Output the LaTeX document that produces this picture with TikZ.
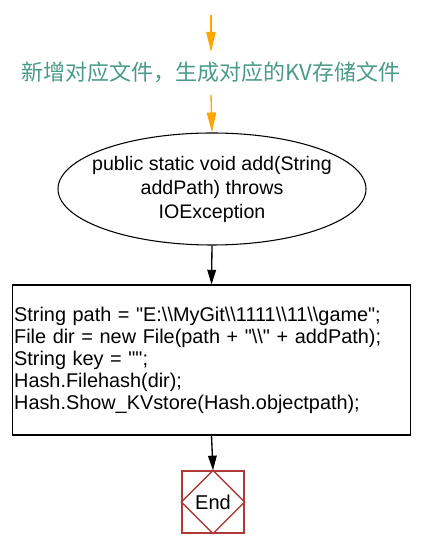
\documentclass[tikz,border=0pt]{standalone}
\usepackage{fontspec}
\setmainfont{Liberation Sans}
\newfontfamily\codefont{Liberation Sans}
\newfontfamily\cjkfont{Noto Sans CJK SC}
\usepackage{xcolor}
\usetikzlibrary{shapes,arrows.meta,positioning,calc}
\definecolor{flowteal}{HTML}{4A9A8A}
\definecolor{flowred}{HTML}{B03A3A}
\definecolor{floworange}{HTML}{FFA500}

\begin{document}
\begin{tikzpicture}[x=0.75pt,y=0.75pt]
  \tikzstyle{orangeflow}=[draw=floworange, line width=1pt, -{Triangle[length=15pt,width=7pt]}]
  \tikzstyle{blackflow}=[draw=black, line width=1pt, -{Triangle[length=11pt,width=6.5pt]}]
  \tikzstyle{func}=[ellipse, draw, line width=0.8pt, minimum width=231pt, minimum height=84pt, align=center, font=\fontsize{14.7}{18}\selectfont, inner xsep=-11pt, inner ysep=0pt]
  \tikzstyle{code}=[rectangle, draw, line width=0.8pt, minimum width=299pt, minimum height=112.5pt, text width=296pt, align=left, font=\codefont\fontsize{14.9}{16.5}\selectfont, inner sep=1.5pt]
  \tikzstyle{endbox}=[rectangle, draw=flowred, line width=1pt, minimum width=46.5pt, minimum height=46.5pt, font=\fontsize{15}{16}\selectfont]

  \useasboundingbox (0,0) rectangle (438,541);

  \coordinate (in) at (211,526);
  \coordinate (inend) at (211,489);
  \node[font=\cjkfont\fontsize{16.5}{20}\selectfont, text=flowteal] (note) at (211,469) {新增对应文件，生成对应的KV存储文件};
  \coordinate (gap) at (211,446);
  \node[func] (add) at (212,352) {public static void add(String\\addPath) throws\\IOException};
  \node[code] (body) at (211.5,181) {String path = "E:\textbackslash\textbackslash MyGit\textbackslash\textbackslash 1111\textbackslash\textbackslash 11\textbackslash\textbackslash game";\\
File dir = new File(path + "\textbackslash\textbackslash" + addPath);\\
String key = "";\\
Hash.Filehash(dir);\\
Hash.Show\_KVstore(Hash.objectpath);};
  \node[endbox] (end) at (213,39) {End};

  % diamond inside the end box
  \draw[flowred, line width=1pt] (end.north) -- (end.east) -- (end.south) -- (end.west) -- cycle;

  % incoming flow
  \draw[orangeflow] (in) -- (inend);
  \draw[orangeflow] (gap) -- (add.north);
  % body flow
  \draw[blackflow] (add.south) -- (body.north);
  \draw[blackflow] (body.south) -- (end.north);
\end{tikzpicture}
\end{document}
